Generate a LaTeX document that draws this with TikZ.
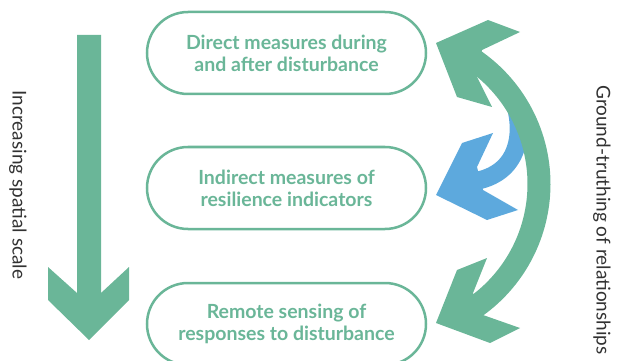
\documentclass[tikz,border=0pt]{standalone}
\usepackage{fontspec}
\setmainfont{Lato}
\definecolor{sage}{RGB}{106,182,152}
\definecolor{sky}{RGB}{93,169,221}
\definecolor{ink}{RGB}{50,50,50}
\begin{document}
\begin{tikzpicture}[x=1pt,y=-1pt,
  stage/.style={draw=sage, line width=2.5pt, fill=white, rounded corners=41pt,
    minimum width=279pt, minimum height=82pt, inner sep=0pt, align=center,
    text=sage, font=\fontsize{19.5}{22}\selectfont\bfseries},
  sidelabel/.style={rotate=-90, text=ink, font=\fontsize{19}{22}\selectfont},
  bigarrow/.style={fill=sage, draw=none}]
\clip (0,0) rectangle (622,361);
\useasboundingbox (0,0) rectangle (622,361);

% stages
\node[stage] (top) at (286.5,53) {Direct measures during\\and after disturbance};
\node[stage] (mid) at (286.5,188) {Indirect measures of\\resilience indicators};
\node[stage] (bot) at (286.5,324) {Remote sensing of\\responses to disturbance};

% spatial scale arrow
\fill[sage] (77,35) -- (101,35) -- (101,293) -- (129,267) -- (129,300)
  -- (89,340) -- (48,300) -- (48,267) -- (77,293) -- cycle;
\node[sidelabel] (scale) at (18,185) {Increasing spatial scale};

% blue arrow towards the indirect measures
\draw[sky, line width=18pt] (512,95) .. controls (525,128) and (522,172) .. (476,181);
\fill[sky] (436,195) -- (462,143) -- (493,133) -- (477,167) -- (483,190)
  -- (518,210) -- (487,220) -- cycle;

% ground-truthing double arrow
\draw[sage, line width=23pt] (388.5,184) ++(-56:150.5) arc[start angle=-56, end angle=56, radius=150.5];
\fill[sage] (436,43) -- (488,20) -- (520,32) -- (482,50) -- (477,77)
  -- (492,107) -- (457,97) -- cycle;
\fill[sage] (436,323) -- (457,270) -- (487,258) -- (473,293) -- (483,315)
  -- (520,328) -- (490,343) -- cycle;
\node[sidelabel] (truth) at (602,220) {Ground-truthing of relationships};
\end{tikzpicture}
\end{document}
